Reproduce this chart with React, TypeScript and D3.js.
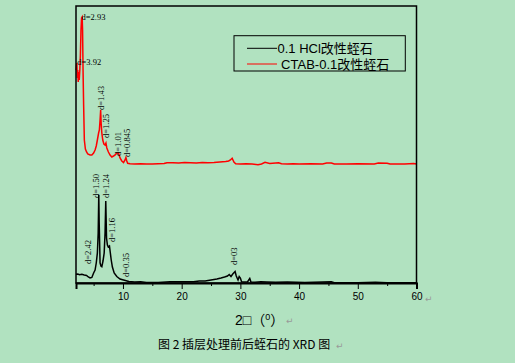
import React, { useEffect, useRef } from 'react'
import * as d3 from 'd3'

// 2θ (deg) and intensity (a.u.)
const redTheta = [2.0, 2.08, 2.15, 2.22, 2.3, 2.38, 2.45, 2.55, 2.65, 2.75, 2.85, 2.95, 3.05, 3.12, 3.2, 3.3, 3.42, 3.6, 3.8, 4.0, 4.4, 4.7, 5.0, 5.25, 5.45, 5.64, 5.85, 5.98, 6.1, 6.2, 6.28, 6.4, 6.56, 6.75, 6.95, 7.1, 7.25, 7.52, 7.8, 8.1, 8.4, 8.67, 8.95, 9.24, 9.5, 9.8, 10.1, 10.35, 10.5, 10.65, 10.8, 11.2, 12, 13, 14, 15, 16, 17, 17.5, 18.5, 19.5, 20.5, 21.5, 22.5, 23.5, 24.5, 25.5, 26.5, 27.5, 28, 28.3, 28.6, 28.9, 29.2, 30, 31, 32, 33, 33.6, 34.2, 35, 36.5, 37, 38, 39, 40, 42, 44, 44.7, 45.5, 46, 48, 50, 52.8, 53.5, 55, 55.5, 58, 59.5, 60]
const redValues = [213, 217, 220, 205, 213, 201, 211, 203, 213, 228, 253, 265, 266, 253, 213, 178, 143, 134, 131, 129, 128, 128, 130, 133, 137, 143, 150, 153, 163, 173, 160, 150, 143, 139, 138, 140, 135, 131, 128, 126, 127, 128, 130, 130, 125, 122, 120.5, 123, 125.5, 122, 119.7, 119.3, 119, 119.2, 119, 119, 119.3, 119.5, 120.3, 120.3, 120, 120.5, 120.3, 120, 120.5, 120.3, 120.5, 121, 121.5, 122, 123, 124.7, 121, 119.3, 119, 119.2, 119, 118.3, 119, 120.7, 119.5, 120.3, 119.2, 119, 119.3, 119, 119.2, 119, 120, 120, 119, 119, 119.2, 119, 120, 119.8, 119, 119, 119.5, 119]

const blackTheta = [2.0, 2.3, 2.6, 3.0, 3.4, 3.8, 4.1, 4.4, 4.7, 5.0, 5.25, 5.45, 5.64, 5.78, 5.88, 5.95, 6.1, 6.25, 6.4, 6.6, 6.8, 6.95, 7.07, 7.2, 7.35, 7.5, 7.7, 7.85, 8.0, 8.2, 8.5, 8.95, 9.5, 10.1, 11, 12, 13, 14, 16, 18, 20, 22, 23, 24, 25, 26, 26.7, 27.3, 27.8, 28.1, 28.4, 28.7, 29.1, 29.3, 29.6, 29.8, 30.0, 30.2, 30.6, 31.2, 31.6, 31.8, 32.5, 33.5, 34.5, 36, 38, 41, 45.5, 46, 50, 53, 55, 60]
const blackValues = [8.7, 9, 8.3, 8.7, 8, 7.5, 6, 5, 5.5, 10, 13, 20, 30, 50, 88, 60, 20, 17, 16.3, 22, 30, 50, 82, 45, 38, 36, 37, 30, 23, 16, 10, 6.5, 4, 3, 1.5, 1, 1.3, 0.5, 0.5, 1.2, 1.3, 1.2, 2, 2, 3, 4, 5, 6, 7, 8.5, 6.5, 9, 11.5, 7, 3, 6.5, 5, 1.3, 1, 1, 4.5, 1, 0.7, 1.3, 1, 0.7, 1, 0.5, 1.2, 0.3, 0.3, 0.8, 0.3, 0.3]

// peak labels: text, 2θ and level where the label starts, rotated or not
const peakLabels = ['d=2.93', 'd=3.92', 'd=1.43', 'd=1.25', 'd=1.01', 'd=0.845', 'd=2.42', 'd=1.50', 'd=1.24', 'd=1.16', 'd=0.35', 'd=03']
const peakTheta = [2.94, 2.22, 6.79, 7.7, 9.7, 11.2, 4.55, 5.85, 7.55, 8.7, 10.95, 29.5]
const peakLevel = [263, 218, 173, 145, 127, 126, 19, 85, 85, 41, 6, 18]
const peakRotated = [false, false, true, true, true, true, true, true, true, true, true, true]

const majorTicks = [10, 20, 30, 40, 50, 60]
const minorTicks = [5, 15, 25, 35, 45, 55]

const seriesNames = ['0.1 HCl改性蛭石', ' CTAB-0.1改性蛭石']
const seriesColors = ['#000000', '#ff0000']

const bg = '#b1e2c0'

export default function App() {
  const ref = useRef<SVGSVGElement | null>(null)

  useEffect(() => {
    if (!ref.current) return
    const svg = d3.select(ref.current)
    svg.selectAll('*').remove()

    const width = 515, height = 363
    const left = 76, right = 416.5, top = 6, bottom = 283

    svg.append('rect').attr('width', width).attr('height', height).attr('fill', bg)

    const x = d3.scaleLinear().domain([2, 60]).range([left, right])
    const y = d3.scaleLinear().domain([0, 277]).range([bottom, top])

    const line = d3.line<[number, number]>().x(d => x(d[0])).y(d => y(d[1]))

    const red: [number, number][] = redTheta.map((t, i) => [t, redValues[i]])
    const black: [number, number][] = blackTheta.map((t, i) => [t, blackValues[i]])

    svg.append('path').attr('d', line(black)).attr('fill', 'none').attr('stroke', '#000').attr('stroke-width', 1.5)
    svg.append('path').attr('d', line(red)).attr('fill', 'none').attr('stroke', '#ff0000').attr('stroke-width', 1.5)

    // frame
    svg.append('rect').attr('x', left).attr('y', top).attr('width', right - left).attr('height', bottom - top)
      .attr('fill', 'none').attr('stroke', '#000').attr('stroke-width', 1.5)

    const ax = svg.append('g').attr('transform', `translate(0,${bottom})`)
      .call(d3.axisBottom(x).tickValues(majorTicks).tickSize(6).tickPadding(4).tickFormat(d3.format('d')))
    ax.select('.domain').attr('stroke-width', 2)
    ax.selectAll('text').attr('font-family', '"Liberation Sans", Arial, sans-serif').attr('font-size', 10).attr('fill', '#000')
    ax.selectAll('line').attr('stroke-width', 1)
    const mx = svg.append('g').attr('transform', `translate(0,${bottom})`)
      .call(d3.axisBottom(x).tickValues(minorTicks).tickSize(3).tickFormat(() => ''))
    mx.select('.domain').remove()

    // peak labels
    peakLabels.forEach((lab, i) => {
      const px = x(peakTheta[i]), py = y(peakLevel[i])
      svg.append('text')
        .attr('transform', peakRotated[i] ? `translate(${px},${py}) rotate(-90)` : `translate(${px},${py})`)
        .attr('font-family', '"Liberation Serif", "Times New Roman", serif')
        .attr('font-size', 8.5).attr('fill', '#000').text(lab)
    })

    // legend
    const lg = svg.append('g')
    lg.append('rect').attr('x', 234).attr('y', 35.7).attr('width', 171.3).attr('height', 35.3)
      .attr('fill', 'none').attr('stroke', '#000').attr('stroke-width', 1)
    seriesNames.forEach((name, i) => {
      const ly = 48.3 + i * 15.7
      lg.append('line').attr('x1', 247).attr('x2', 277).attr('y1', ly).attr('y2', ly)
        .attr('stroke', seriesColors[i]).attr('stroke-width', 1)
      lg.append('text').attr('x', 277.5).attr('y', ly + 4.8).attr('xml:space', 'preserve')
        .attr('font-family', '"Liberation Sans", Arial, "Noto Sans CJK SC", sans-serif')
        .attr('font-size', 13).attr('fill', '#000').text(name)
    })

    const ret = (xx: number, yy: number) => svg.append('text').attr('x', xx).attr('y', yy)
      .attr('font-family', '"DejaVu Sans", sans-serif').attr('font-size', 9).attr('fill', '#999').text('↵')

    ret(425, 302)

    // axis title
    const tt = svg.append('text').attr('x', 235).attr('y', 325)
      .attr('font-family', '"Liberation Sans", "Noto Sans CJK SC", sans-serif').attr('font-size', 14).attr('fill', '#000')
    tt.append('tspan').text('2□（')
    tt.append('tspan').attr('font-size', 9).attr('dy', -5).text('0')
    tt.append('tspan').attr('dy', 5).text('）')
    ret(286, 324)

    // caption
    svg.append('text').attr('x', 158).attr('y', 349)
      .attr('font-family', '"Noto Sans CJK SC", sans-serif').attr('font-size', 12).attr('fill', '#000')
      .text('图 2  插层处理前后蛭石的 XRD 图')
    ret(336, 349)
  }, [])

  return <svg ref={ref} width={515} height={363} style={{ position: 'absolute', left: 0, top: 0 }} />
}
